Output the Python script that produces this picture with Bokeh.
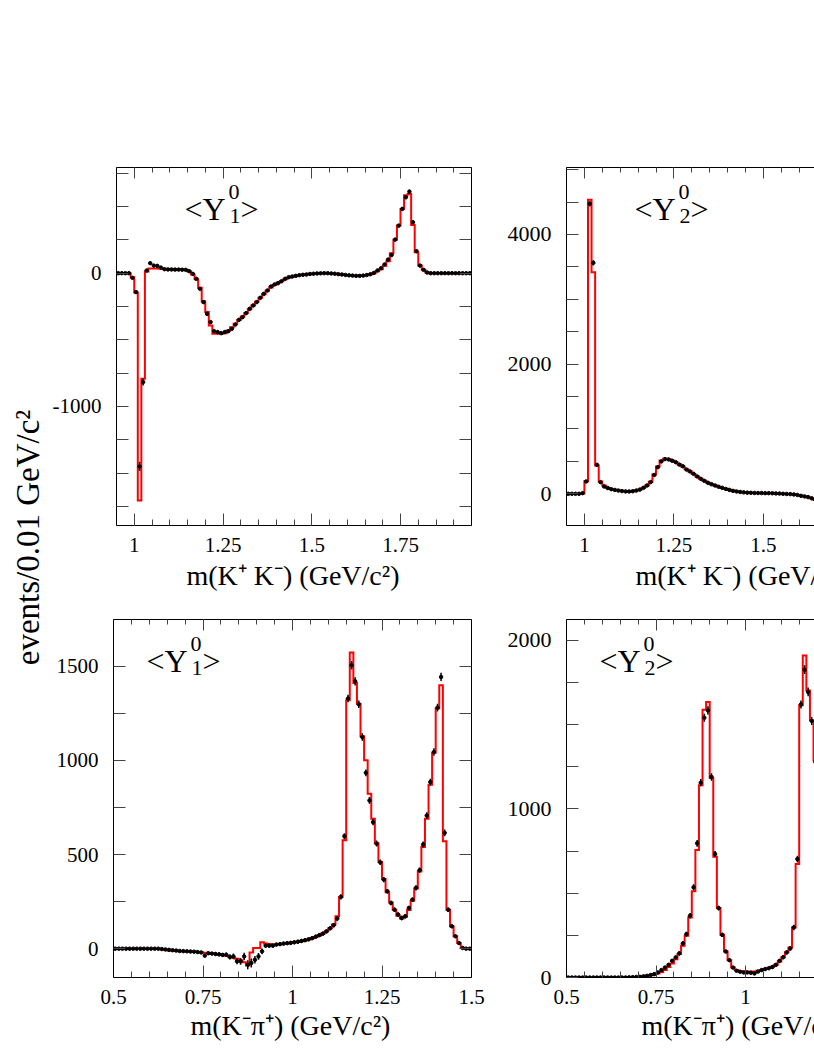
import math
from bokeh.plotting import figure
from bokeh.layouts import row, column
from bokeh.models import (LinearAxis, FixedTicker, Label, Range1d, Title,
                          CustomJSTickFormatter, ColumnDataSource)
from bokeh.embed import file_html
from bokeh.resources import INLINE

FONT = "Liberation Serif"
BIN_WIDTH = 0.01

# ---------------- data (events / 0.01 GeV/c^2) ----------------
# m(K+K-) panels: bins start at 0.95 GeV/c^2
KK_START = 0.95
kk_y1_data = [
    0, 0, 0, 0, -35, -142, -1450, -817, 20, 75,
    57, 55, 42, 30, 28, 28, 27, 27, 26, 25,
    15, -5, -42, -117, -217, -305, -367, -435, -442, -450,
    -442, -435, -417, -385, -350, -330, -300, -267, -242, -217,
    -185, -155, -130, -100, -85, -75, -60, -42, -30, -25,
    -20, -15, -12, -10, -6, -4, -2, -1, 0, 0,
    -2, -4, -7, -10, -13, -16, -18, -20, -20, -18,
    -14, -8, 2, 20, 37, 65, 102, 137, 252, 357,
    482, 570, 612, 382, 165, 57, 25, 5, 0, 0,
    0, 0, 0, 0, 0, 0, 0, 0, 0, 0,
]
kk_y1_err = [
    2, 2, 2, 2, 8, 15, 35, 25, 10, 10,
    8, 8, 8, 8, 8, 8, 8, 8, 8, 8,
    8, 8, 10, 10, 12, 12, 12, 12, 12, 12,
    12, 12, 12, 12, 12, 12, 12, 12, 10, 10,
    10, 10, 10, 10, 8, 8, 8, 8, 8, 8,
    6, 6, 6, 6, 6, 6, 6, 6, 6, 6,
    6, 6, 6, 6, 6, 6, 6, 6, 6, 6,
    6, 6, 6, 8, 8, 8, 10, 10, 12, 12,
    14, 15, 15, 12, 10, 8, 6, 4, 2, 2,
    2, 2, 2, 2, 2, 2, 2, 2, 2, 2,
]
kk_y1_fit = [
    0, 0, 0, 0, -30, -145, -1705, -792, 12, 35,
    35, 35, 34, 33, 32, 31, 30, 29, 28, 25,
    12, -10, -45, -110, -210, -292, -392, -455, -455, -455,
    -450, -430, -405, -380, -352, -325, -298, -270, -243, -215,
    -185, -158, -132, -108, -88, -72, -58, -45, -34, -26,
    -19, -14, -10, -7, -5, -3, -2, -1, 0, 0,
    -2, -4, -7, -10, -13, -16, -18, -20, -20, -18,
    -14, -8, 0, 15, 30, 55, 90, 150, 250, 357,
    482, 585, 595, 362, 157, 57, 25, 5, 0, 0,
    0, 0, 0, 0, 0, 0, 0, 0, 0, 0,
]

kk_y2_data = [
    0, 0, 0, 0, 10, 190, 4473, 3563, 447, 180,
    113, 88, 72, 60, 50, 42, 37, 36, 40, 50,
    65, 92, 128, 180, 290, 410, 500, 535, 530, 510,
    488, 450, 425, 375, 345, 308, 268, 231, 200, 170,
    148, 128, 108, 92, 75, 60, 45, 36, 28, 22,
    18, 15, 13, 12, 11, 10, 10, 8, 6, 4,
    0, -2, -5, -10, -18, -31, -40, -51, -70, -92,
]
kk_y2_err = [
    2, 2, 2, 2, 10, 20, 40, 40, 20, 15,
    12, 12, 12, 10, 10, 10, 10, 10, 10, 10,
    10, 12, 12, 14, 15, 15, 15, 15, 15, 15,
    15, 15, 15, 15, 14, 14, 14, 13, 13, 12,
    12, 12, 12, 10, 10, 10, 10, 10, 10, 10,
    10, 10, 10, 10, 10, 10, 10, 10, 10, 10,
    10, 10, 10, 10, 10, 10, 10, 10, 10, 10,
]
kk_y2_fit = [
    0, 0, 0, 0, 5, 195, 4535, 3418, 437, 190,
    128, 92, 75, 62, 52, 44, 39, 37, 40, 52,
    66, 92, 128, 185, 298, 421, 514, 540, 535, 515,
    492, 455, 420, 380, 342, 305, 268, 233, 200, 172,
    148, 127, 108, 91, 76, 62, 50, 40, 32, 25,
    20, 16, 14, 12, 11, 10, 9, 8, 6, 4,
    1, -2, -6, -11, -19, -29, -41, -54, -70, -92,
]

# m(K-pi+) panels: bins start at 0.50 GeV/c^2
KP_START = 0.50
kp_y1_data = [
    0, 0, 0, 0, 0, 0, 0, 0, 0, 0,
    0, 0, 0, -2, -4, -6, -8, -10, -12, -13,
    -14, -15, -16, -18, -20, -37, -24, -26, -28, -30,
    -33, -32, -44, -41, -67, -67, -41, -85, -76, -59,
    -41, -14, 16, 16, 16, 22, 24, 27, 29, 31,
    34, 37, 41, 45, 50, 56, 64, 72, 80, 92,
    108, 125, 160, 275, 597, 1328, 1505, 1420, 1298, 1124,
    934, 787, 672, 558, 459, 367, 305, 243, 207, 181,
    163, 172, 216, 260, 323, 417, 553, 707, 885, 1044,
    1280, 1443, 615, 207, 119, 66, 30, 4, 0, 0,
]
kp_y1_err = [
    2, 2, 2, 2, 2, 2, 2, 2, 2, 2,
    2, 2, 2, 3, 3, 4, 4, 4, 5, 5,
    5, 6, 6, 6, 7, 8, 8, 8, 9, 10,
    10, 12, 14, 15, 16, 18, 20, 24, 24, 20,
    18, 15, 12, 10, 10, 10, 10, 10, 10, 10,
    10, 10, 10, 10, 10, 10, 10, 10, 10, 10,
    10, 12, 12, 14, 16, 20, 22, 22, 20, 20,
    18, 18, 16, 16, 14, 14, 12, 12, 12, 12,
    12, 12, 12, 12, 14, 14, 16, 18, 18, 20,
    20, 22, 18, 12, 10, 8, 6, 4, 2, 2,
]
kp_y1_fit = [
    0, 0, 0, 0, 0, 0, 0, 0, 0, 0,
    0, 0, 0, -3, -6, -9, -11, -12, -13, -14,
    -14, -15, -16, -17, -19, -22, -24, -26, -28, -31,
    -34, -38, -43, -48, -54, -62, -72, -89, -20, 4,
    4, 34, 28, 25, 24, 24, 25, 27, 29, 31,
    34, 37, 40, 44, 49, 55, 62, 70, 80, 92,
    108, 128, 172, 275, 576, 1319, 1573, 1411, 1301, 1128,
    1000, 823, 690, 560, 460, 370, 300, 245, 205, 175,
    160, 170, 205, 255, 320, 410, 540, 690, 870, 1040,
    1275, 1399, 571, 207, 119, 66, 30, 5, 0, 0,
]

kp_y2_data = [
    0, 0, 0, 0, 0, 0, 0, 0, 0, 0,
    0, 0, 0, 0, 0, 0, 0, 1, 2, 3,
    4, 7, 10, 15, 20, 30, 44, 59, 75, 99,
    119, 143, 202, 257, 366, 535, 796, 1156, 1541, 1585,
    1190, 733, 412, 253, 154, 103, 59, 40, 34, 30,
    30, 28, 24, 35, 44, 50, 55, 62, 75, 99,
    120, 149, 172, 297, 703, 1620, 1826, 1694, 1522, 1279,
]
kp_y2_err = [
    1, 1, 1, 1, 1, 1, 1, 1, 1, 1,
    1, 1, 1, 1, 1, 1, 2, 2, 2, 3,
    3, 4, 4, 5, 6, 7, 8, 9, 10, 10,
    12, 12, 14, 14, 16, 18, 20, 22, 24, 24,
    22, 18, 14, 12, 10, 8, 8, 8, 8, 8,
    8, 8, 8, 8, 8, 9, 9, 10, 10, 10,
    12, 12, 14, 16, 20, 24, 26, 26, 24, 22,
]
kp_y2_fit = [
    0, 0, 0, 0, 0, 0, 0, 0, 0, 0,
    0, 0, 0, 0, 0, 0, 0, 1, 2, 3,
    5, 7, 10, 14, 18, 24, 32, 44, 63, 83,
    109, 139, 188, 248, 356, 511, 756, 1140, 1589, 1634,
    1184, 717, 412, 253, 154, 103, 59, 45, 38, 36,
    36, 36, 36, 40, 44, 50, 56, 64, 76, 95,
    120, 150, 178, 297, 673, 1615, 1911, 1703, 1526, 1289,
]

# tick positions / labels
kk_x_major = [1.0, 1.25, 1.5, 1.75]
kp_x_major = [0.5, 0.75, 1.0, 1.25, 1.5]
y1kk_major = [-1000, 0]
y1kk_minor = [-1750, -1500, -1250, -750, -500, -250, 250, 500, 750]
y2kk_major = [0, 2000, 4000]
y2kk_minor = [500, 1000, 1500, 2500, 3000, 3500, 4500, 5000]
y1kp_major = [0, 500, 1000, 1500]
y1kp_minor = [250, 750, 1250]
y2kp_major = [0, 1000, 2000]
y2kp_minor = [250, 500, 750, 1250, 1500, 1750]

XTITLE_KK = "m(K\u207a K\u207b) (GeV/c\u00b2)"
XTITLE_KP = "m(K\u207b\u03c0\u207a) (GeV/c\u00b2)"
YTITLE = "events/0.01 GeV/c\u00b2"

FRAME = 358          # full frame size in px
CUT = 248            # visible frame width of right-hand panels


def minor_x(lo, hi):
    out = []
    v = lo
    while v <= hi + 1e-9:
        out.append(round(v, 3))
        v += 0.05
    return out


def add_axis(p, side, major, minor, tmaj, tmin, label_size=None, standoff=0):
    ax = LinearAxis(ticker=FixedTicker(ticks=major, minor_ticks=minor))
    ax.major_tick_in = tmaj
    ax.major_tick_out = 0
    ax.minor_tick_in = tmin
    ax.minor_tick_out = 0
    ax.axis_line_color = "black"
    ax.axis_line_width = 1
    ax.major_tick_line_color = "#444444"
    ax.minor_tick_line_color = "#444444"
    if label_size:
        ax.formatter = CustomJSTickFormatter(code="return String(tick);")
        ax.major_label_text_font = FONT
        ax.major_label_text_font_size = f"{label_size}px"
        ax.major_label_text_color = "black"
        ax.major_label_standoff = standoff
    else:
        ax.formatter = CustomJSTickFormatter(code="return '';")
        ax.major_label_standoff = 0
        ax.major_label_text_font_size = "1px"
    p.add_layout(ax, side)
    return ax


def panel(width, height, borders, xr, yr, start, data, err, fit,
          xmajor, xminor, ymajor, yminor, ylab_size, left_panel,
          xtitle, xtitle_off, xtitle_standoff, sub, title_dx):
    p = figure(width=width, height=height,
               x_range=Range1d(*xr), y_range=Range1d(*yr),
               output_backend="svg", toolbar_location=None,
               x_axis_location=None, y_axis_location=None,
               min_border_left=borders[0], min_border_right=borders[1],
               min_border_top=borders[2], min_border_bottom=borders[3])
    p.outline_line_color = None
    p.background_fill_color = "white"
    p.border_fill_color = "white"
    p.xgrid.visible = False
    p.ygrid.visible = False

    n = len(data)
    left = [start + BIN_WIDTH * i for i in range(n)]
    centers = [l + BIN_WIDTH / 2 for l in left]
    step_x = left + [start + BIN_WIDTH * n]
    step_y = list(fit) + [fit[-1]]
    p.step(step_x, step_y, mode="after", line_color="#ff0000", line_width=2,
           line_join="miter")

    src = ColumnDataSource(dict(
        x=centers, y=data,
        lo=[d - e for d, e in zip(data, err)],
        hi=[d + e for d, e in zip(data, err)]))
    p.segment(x0="x", y0="lo", x1="x", y1="hi", source=src,
              line_color="black", line_width=1.5)
    p.scatter("x", "y", source=src, size=3.5, color="black")

    add_axis(p, "below", xmajor, xminor, 12, 6, 21, 12)
    add_axis(p, "above", xmajor, xminor, 11, 5)
    add_axis(p, "left", ymajor, yminor, 12, 12, ylab_size, 15)
    if left_panel:
        add_axis(p, "right", ymajor, yminor, 12, 12)

    # x-axis title (fixed offset from the frame; runs off the cut panels)
    p.add_layout(Title(text=xtitle, align="left", offset=xtitle_off,
                       vertical_align="top", standoff=xtitle_standoff,
                       text_font=FONT, text_font_size="28px",
                       text_font_style="normal", text_color="black"), "below")

    # <Y_l^0> title
    ty = 317
    p.add_layout(Label(x=title_dx, y=ty, x_units="screen", y_units="screen",
                       text="<Y", text_font=FONT, text_font_size="32px",
                       text_baseline="alphabetic", text_color="black"))
    p.add_layout(Label(x=title_dx + 44, y=ty + 17, x_units="screen", y_units="screen",
                       text="0", text_font=FONT, text_font_size="22px",
                       text_baseline="alphabetic", text_color="black"))
    p.add_layout(Label(x=title_dx + 45, y=ty - 7, x_units="screen", y_units="screen",
                       text=sub, text_font=FONT, text_font_size="22px",
                       text_baseline="alphabetic", text_color="black"))
    p.add_layout(Label(x=title_dx + 56, y=ty, x_units="screen", y_units="screen",
                       text=">", text_font=FONT, text_font_size="32px",
                       text_baseline="alphabetic", text_color="black"))
    return p


ROW1_H, ROW2_H = 604, 448
YT_W, LEFT_W, RIGHT_W = 49, 447, 318
B_TOP = (64, 25, 167, 79)
B_TOP_R = (70, 0, 167, 79)
B_BOT = (64, 25, 15, 75)
B_BOT_R = (70, 0, 15, 75)

kk_cut_end = KK_START + 1.0 * CUT / FRAME
kp_cut_end = KP_START + 1.0 * CUT / FRAME

p_tl = panel(LEFT_W, ROW1_H, B_TOP, (0.95, 1.95), (-1893, 793), KK_START,
             kk_y1_data, kk_y1_err, kk_y1_fit, kk_x_major, minor_x(0.95, 1.95),
             y1kk_major, y1kk_minor, 21, True, XTITLE_KK, 70, 11, "1", 68)
p_tr = panel(RIGHT_W, ROW1_H, B_TOP_R, (0.95, kk_cut_end), (-489, 5033), KK_START,
             kk_y2_data, kk_y2_err, kk_y2_fit, kk_x_major, minor_x(0.95, 1.65),
             y2kk_major, y2kk_minor, 22, False, XTITLE_KK, 69, 11, "2", 68)
p_bl = panel(LEFT_W, ROW2_H, B_BOT, (0.5, 1.5), (-153, 1748), KP_START,
             kp_y1_data, kp_y1_err, kp_y1_fit, kp_x_major, minor_x(0.5, 1.5),
             y1kp_major, y1kp_minor, 21, True, XTITLE_KP, 77, 7, "1", 33)
p_br = panel(RIGHT_W, ROW2_H, B_BOT_R, (0.5, kp_cut_end), (0, 2124), KP_START,
             kp_y2_data, kp_y2_err, kp_y2_fit, kp_x_major, minor_x(0.5, 1.2),
             y2kp_major, y2kp_minor, 22, False, XTITLE_KP, 75, 7, "2", 33)

# common y-axis title
TOTAL_H = ROW1_H + ROW2_H
p_y = figure(width=YT_W, height=TOTAL_H, x_range=Range1d(0, 1), y_range=Range1d(0, 1),
             output_backend="svg", toolbar_location=None,
             x_axis_location=None, y_axis_location=None, min_border=0)
p_y.outline_line_color = None
p_y.xgrid.visible = False
p_y.ygrid.visible = False
p_y.add_layout(Label(x=27, y=TOTAL_H - 537, x_units="screen", y_units="screen",
                     text=YTITLE, text_font=FONT, text_font_size="33px",
                     angle=math.pi / 2, text_align="center", text_baseline="middle",
                     text_color="black"))

layout = row(p_y, column(row(p_tl, p_tr), row(p_bl, p_br)))

open("out.html", "w").write(file_html(layout, INLINE, title="Y moments"))
